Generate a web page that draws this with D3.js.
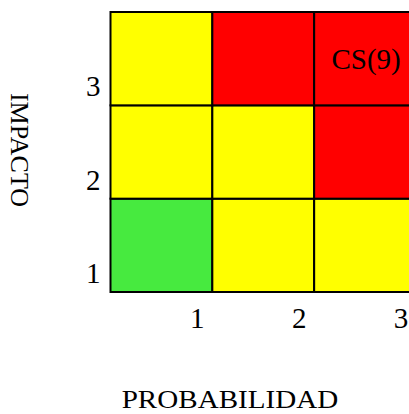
<!DOCTYPE html>
<html>
<head>
<meta charset="utf-8">
<script src="https://cdn.jsdelivr.net/npm/d3@7"></script>
<style>
  body { margin: 0; background: #fff; }
  svg { display: block; font-family: "Liberation Serif", "Times New Roman", serif; }
</style>
</head>
<body>
<svg id="chart"></svg>
<script>
// probability (x) and impact (y) levels
const probLevels = [1, 2, 3];
const impactLevels = [1, 2, 3];
// risk colour per cell, rows = impact 1..3, cols = probability 1..3
const riskRow1 = ['low', 'mid', 'mid'];
const riskRow2 = ['mid', 'mid', 'high'];
const riskRow3 = ['mid', 'high', 'high'];
const riskColors = { low: '#47ea3f', mid: '#ffff00', high: '#ff0000' };
// annotations placed in cells
const labels = [{ prob: 3, impact: 3, text: 'CS(9)' }];

const width = 409, height = 414;
const margin = { top: 12, right: -7, bottom: 122, left: 110.5 };

const svg = d3.select('#chart')
  .attr('width', width)
  .attr('height', height);

const x = d3.scaleBand()
  .domain(probLevels)
  .range([margin.left, width - margin.right]);

const y = d3.scaleBand()
  .domain(impactLevels)
  .range([height - margin.bottom, margin.top]);

const cells = [];
[riskRow1, riskRow2, riskRow3].forEach((row, i) => {
  row.forEach((r, j) => cells.push({ prob: probLevels[j], impact: impactLevels[i], risk: r }));
});

svg.append('g')
  .selectAll('rect')
  .data(cells)
  .join('rect')
  .attr('x', d => x(d.prob))
  .attr('y', d => y(d.impact))
  .attr('width', x.bandwidth())
  .attr('height', y.bandwidth())
  .attr('fill', d => riskColors[d.risk])
  .attr('stroke', '#000')
  .attr('stroke-width', 2);

svg.append('g')
  .selectAll('text')
  .data(labels)
  .join('text')
  .attr('x', d => x(d.prob) + x.bandwidth() / 2 + 1)
  .attr('y', d => y(d.impact) + y.bandwidth() / 2 + 10)
  .attr('text-anchor', 'middle')
  .attr('font-size', 29)
  .text(d => d.text);

// tick labels sit near the far corner of each band
svg.append('g')
  .selectAll('text')
  .data(probLevels)
  .join('text')
  .attr('x', d => x(d) + x.bandwidth() - 15)
  .attr('y', height - margin.bottom + 36)
  .attr('text-anchor', 'middle')
  .attr('font-size', 29)
  .text(d => d);

svg.append('g')
  .selectAll('text')
  .data(impactLevels)
  .join('text')
  .attr('x', margin.left - 10)
  .attr('y', d => y(d) + y.bandwidth() - 9)
  .attr('text-anchor', 'end')
  .attr('font-size', 29)
  .text(d => d);

svg.append('text')
  .attr('transform', 'translate(230,408) scale(1.12,1)')
  .attr('text-anchor', 'middle')
  .attr('font-size', 26)
  .text('PROBABILIDAD');

svg.append('text')
  .attr('transform', 'translate(11,150) rotate(90)')
  .attr('text-anchor', 'middle')
  .attr('font-size', 26)
  .text('IMPACTO');
</script>
</body>
</html>
